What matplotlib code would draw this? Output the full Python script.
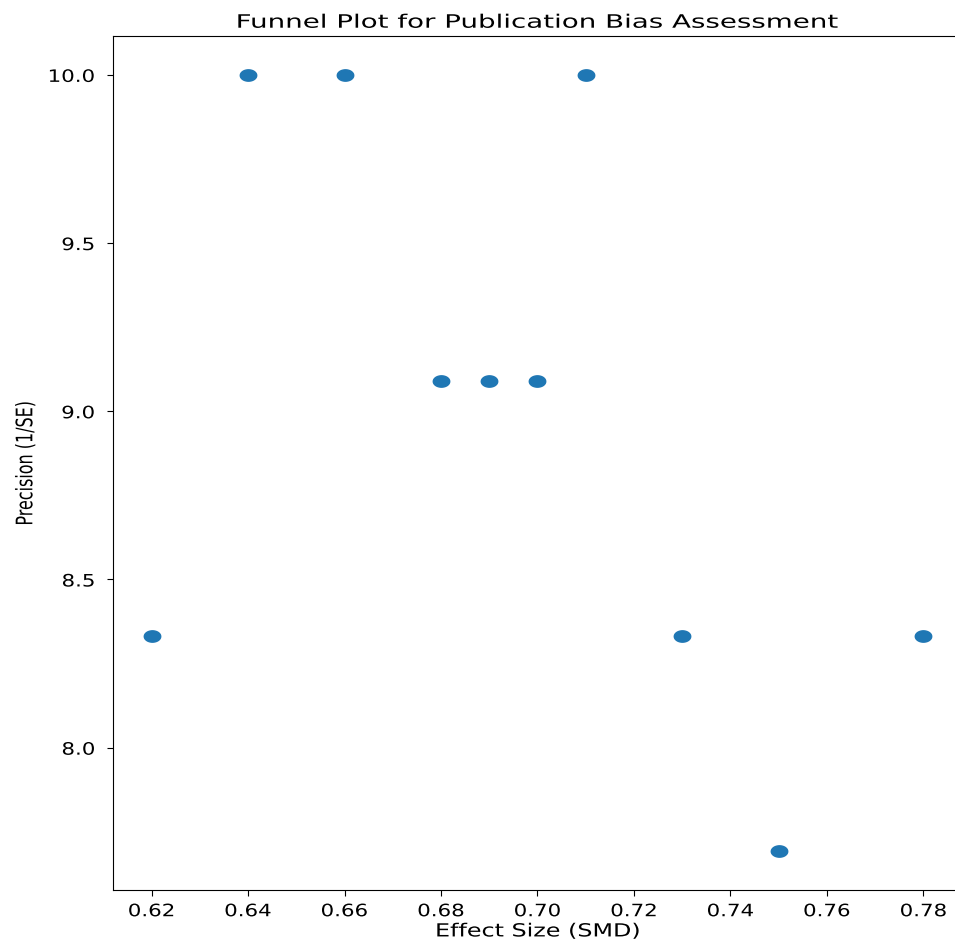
import matplotlib
matplotlib.use('Agg')
import matplotlib.pyplot as plt
import numpy as np
from matplotlib.path import Path
from matplotlib.patheffects import AbstractPathEffect
from matplotlib.transforms import Affine2D

# effect sizes and their standard errors
effect = [0.62, 0.64, 0.66, 0.68, 0.69, 0.70, 0.71, 0.73, 0.75, 0.78]
se = [0.12, 0.10, 0.10, 0.11, 0.11, 0.11, 0.10, 0.12, 0.13, 0.12]
precision = [1.0 / s for s in se]


class HStretch(AbstractPathEffect):
    # widen glyphs horizontally about their centre (or right edge),
    # the reference looks stretched sideways
    def __init__(self, sx, anchor='center'):
        super().__init__()
        self.sx = sx
        self.anchor = anchor

    def draw_path(self, renderer, gc, tpath, affine, rgbFace=None):
        ext = tpath.get_extents(affine)
        x0 = ext.x1 if self.anchor == 'right' else 0.5 * (ext.x0 + ext.x1)
        aff = affine + Affine2D().translate(-x0, 0).scale(self.sx, 1).translate(x0, 0)
        renderer.draw_path(gc, tpath, aff, rgbFace)


# slightly wide oval marker
t = np.linspace(0, 2 * np.pi, 60)
oval = Path(np.column_stack([np.cos(t), 0.69 * np.sin(t)]), closed=True)

fig = plt.figure(figsize=(9.55, 9.46), dpi=100)
ax = fig.add_axes([0.1183, 0.0592, 0.889, 0.9027])
ax.scatter(effect, precision, marker=oval, s=140, color='#1f77b4')

title = ax.set_title('Funnel Plot for Publication Bias Assessment', fontsize=13.3)
xl = ax.set_xlabel('Effect Size (SMD)', fontsize=13)
yl = ax.set_ylabel('Precision (1/SE)', fontsize=11.5)
ax.xaxis.set_label_coords(0.5, -0.038)
ax.yaxis.set_label_coords(-0.094, 0.5)
ax.tick_params(axis='x', labelsize=12.3, length=4.3, pad=4.5)
ax.tick_params(axis='y', labelsize=12.3, length=4.3, pad=8.6)

fig.canvas.draw()
title.set_path_effects([HStretch(1.5)])
xl.set_path_effects([HStretch(1.32)])
yl.set_path_effects([HStretch(1.43)])
for txt in ax.get_xticklabels():
    txt.set_path_effects([HStretch(1.25)])
for txt in ax.get_yticklabels():
    txt.set_path_effects([HStretch(1.25, anchor='right')])

fig.savefig('out.png', dpi=100)
